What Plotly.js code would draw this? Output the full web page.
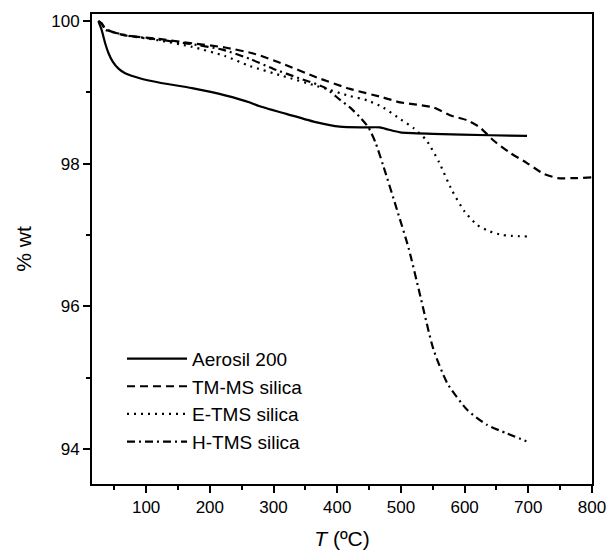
<!DOCTYPE html>
<html>
<head>
<meta charset="utf-8">
<script src="https://cdn.plot.ly/plotly-3.0.1.min.js"></script>
<style>html,body{margin:0;padding:0;background:#fff;}#chart{width:609px;height:554px;}</style>
</head>
<body>
<div id="chart"></div>
<script>
// Aerosil 200
const aerosilT = [25, 30, 36, 41, 47, 57, 67, 90, 120, 172, 224, 263, 277, 320, 368, 404, 440, 467, 480, 499, 550, 640, 698];
const aerosilW = [100.0, 99.88, 99.68, 99.55, 99.44, 99.33, 99.27, 99.20, 99.14, 99.06, 98.96, 98.86, 98.81, 98.70, 98.58, 98.52, 98.51, 98.51, 98.48, 98.44, 98.42, 98.40, 98.39];
// TM-MS silica
const tmmsT = [25, 30, 36, 50, 67, 120, 172, 224, 271, 315, 368, 420, 472, 499, 525, 551, 577, 604, 624, 645, 672, 698, 724, 746, 777, 799];
const tmmsW = [100.0, 99.97, 99.89, 99.84, 99.80, 99.75, 99.69, 99.63, 99.54, 99.40, 99.21, 99.05, 98.93, 98.86, 98.83, 98.79, 98.68, 98.61, 98.51, 98.33, 98.15, 98.01, 97.86, 97.80, 97.80, 97.81];
// E-TMS silica
const etmsT = [25, 30, 36, 50, 67, 120, 172, 224, 263, 315, 368, 420, 447, 472, 500, 520, 540, 560, 580, 600, 620, 640, 660, 698];
const etmsW = [100.0, 99.97, 99.89, 99.84, 99.80, 99.73, 99.64, 99.51, 99.37, 99.23, 99.09, 98.95, 98.89, 98.79, 98.62, 98.50, 98.33, 98.02, 97.63, 97.33, 97.14, 97.05, 97.00, 96.98];
// H-TMS silica
const htmsT = [25, 30, 36, 50, 70, 120, 170, 220, 263, 300, 340, 380, 404, 420, 436, 449, 460, 472, 494, 512, 529, 551, 573, 604, 635, 666, 697];
const htmsW = [100.0, 99.97, 99.88, 99.84, 99.80, 99.74, 99.68, 99.60, 99.47, 99.33, 99.20, 99.07, 98.90, 98.79, 98.65, 98.51, 98.30, 97.98, 97.35, 96.82, 96.20, 95.40, 94.92, 94.55, 94.34, 94.22, 94.11];

const seriesNames = ["Aerosil 200", "TM-MS silica", "E-TMS silica", "H-TMS silica"];

const FONT = "Liberation Sans, Arial, sans-serif";
function tr(x, y, name, dash) {
  return {x: x, y: y, name: name, type: "scatter", mode: "lines",
          line: {color: "#000", width: 2.2, dash: dash, shape: "spline", smoothing: 0.6}};
}
const data = [
  tr(aerosilT, aerosilW, seriesNames[0], "solid"),
  tr(tmmsT, tmmsW, seriesNames[1], "8px,5px"),
  tr(etmsT, etmsW, seriesNames[2], "2px,5px"),
  tr(htmsT, htmsW, seriesNames[3], "8px,4px,2px,4px")
];
const layout = {
  width: 609, height: 554,
  margin: {l: 92, r: 17, t: 14, b: 70},
  paper_bgcolor: "#fff", plot_bgcolor: "#fff",
  font: {family: FONT, size: 17, color: "#000"},
  showlegend: true,
  legend: {x: 0.06, y: 0.307, xanchor: "left", yanchor: "top", bgcolor: "rgba(0,0,0,0)",
           font: {family: FONT, size: 19, color: "#000"}, itemwidth: 60, tracegroupgap: 0},
  xaxis: {range: [15, 800], showgrid: false, zeroline: false, showline: true, linecolor: "#000", linewidth: 2,
          mirror: true, ticks: "outside", ticklen: 7, tickwidth: 2, tickcolor: "#000",
          tick0: 0, dtick: 100, tickfont: {family: FONT, size: 17},
          minor: {ticks: "outside", ticklen: 4, tickwidth: 2, tickcolor: "#000", dtick: 50, tick0: 0, showgrid: false},
          title: {text: "<i>T</i> (ºC)", font: {family: FONT, size: 21}, standoff: 15}},
  yaxis: {range: [93.51, 100.1], showgrid: false, zeroline: false, showline: true, linecolor: "#000", linewidth: 2,
          mirror: true, ticks: "outside", ticklen: 7, tickwidth: 2, tickcolor: "#000",
          tick0: 94, dtick: 2, tickfont: {family: FONT, size: 17},
          minor: {ticks: "outside", ticklen: 4, tickwidth: 2, tickcolor: "#000", dtick: 1, tick0: 94, showgrid: false},
          title: {text: "% wt", font: {family: FONT, size: 21}, standoff: 14}}
};
Plotly.newPlot("chart", data, layout, {displayModeBar: false, staticPlot: true});
</script>
</body>
</html>
